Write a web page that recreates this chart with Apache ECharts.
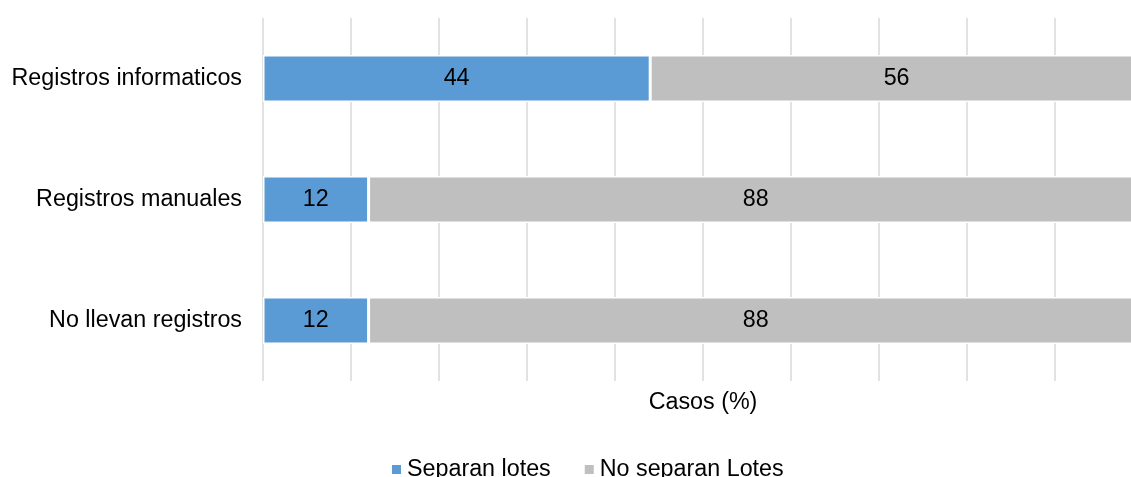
<!DOCTYPE html>
<html>
<head>
<meta charset="utf-8">
<script src="https://cdn.jsdelivr.net/npm/echarts@6/dist/echarts.min.js"></script>
<style>
html,body{margin:0;padding:0;background:#fff;overflow:hidden;width:1131px;height:477px;}
#chart{width:1143px;height:477px;}
</style>
</head>
<body>
<div id="chart"></div>
<script>
const categories = ["Registros informaticos", "Registros manuales", "No llevan registros"];
const separanLotes = [44, 12, 12];
const noSeparanLotes = [56, 88, 88];
const seriesNames = ["Separan lotes", "No separan Lotes"];

const chart = echarts.init(document.getElementById('chart'), null, {renderer: 'canvas'});
const font = 'Arial, "Liberation Sans", sans-serif';
const fs = 23.3;
const labelStyle = {show: true, position: 'inside', color: '#000', fontSize: fs, fontFamily: font};
chart.setOption({
  animation: false,
  textStyle: {fontFamily: font},
  grid: {left: 263, right: 0, top: 18, bottom: 96, containLabel: false},
  legend: {
    data: seriesNames,
    left: 387, top: 453,
    itemWidth: 9, itemHeight: 9, itemGap: 34,
    icon: 'rect',
    itemStyle: {borderWidth: 0},
    textStyle: {fontSize: fs, color: '#000', fontFamily: font, padding: [0,0,0,1]}
  },
  xAxis: {
    type: 'value', min: 0, max: 100, interval: 10,
    name: 'Casos (%)', nameLocation: 'middle', nameGap: 10,
    nameTextStyle: {fontSize: fs, color: '#000', fontFamily: font, verticalAlign: 'top'},
    axisLabel: {show: false}, axisLine: {show: false}, axisTick: {show: false},
    splitLine: {show: true, lineStyle: {color: '#d9d9d9', width: 1.5}}
  },
  yAxis: {
    type: 'category', data: categories, inverse: true,
    axisLine: {show: false}, axisTick: {show: false},
    axisLabel: {fontSize: fs, color: '#000', margin: 21, fontFamily: font}
  },
  series: [
    {name: seriesNames[0], type: 'bar', stack: 'total', data: separanLotes, barWidth: 47,
     itemStyle: {color: '#5b9bd5', borderColor: '#fff', borderWidth: 1.5}, label: labelStyle},
    {name: seriesNames[1], type: 'bar', stack: 'total', data: noSeparanLotes, barWidth: 47,
     itemStyle: {color: '#bfbfbf', borderColor: '#fff', borderWidth: 1.5}, label: labelStyle}
  ]
});
</script>
</body>
</html>
